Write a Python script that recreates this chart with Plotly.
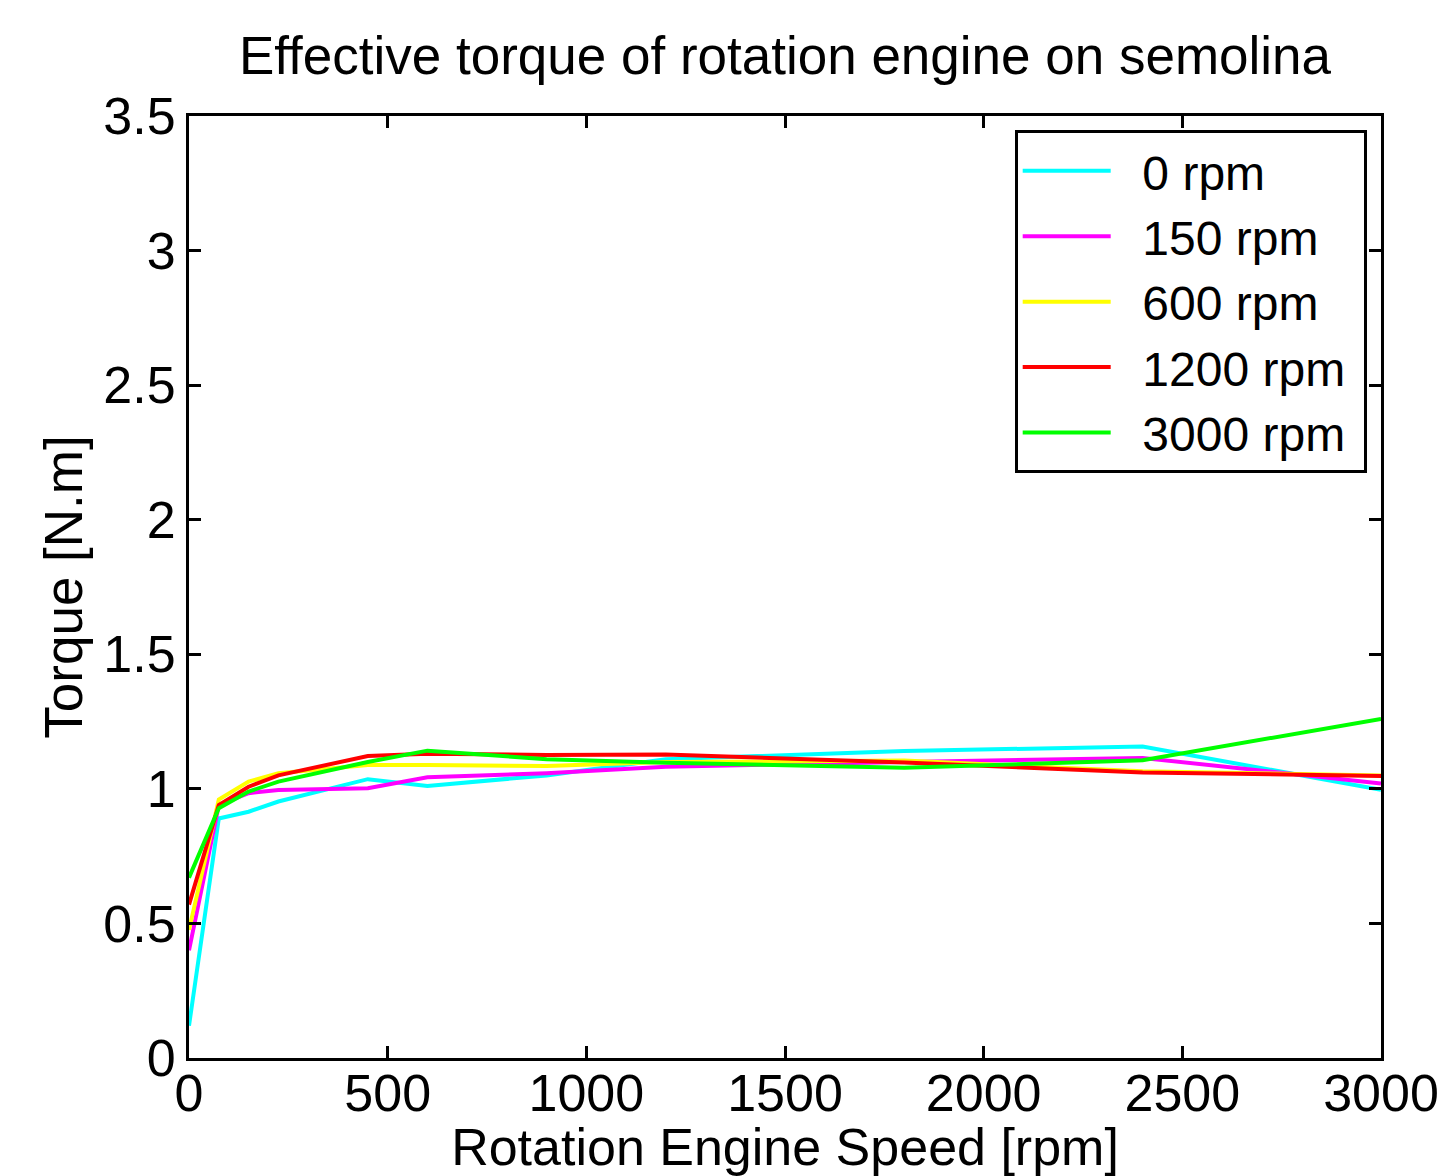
import plotly.graph_objects as go

speed = [0, 75, 150, 225, 450, 600, 900, 1200, 1800, 2400, 3000]
torque_0 = [0.12, 0.89, 0.915, 0.953, 1.036, 1.011, 1.05, 1.11, 1.141, 1.157, 0.997]
torque_150 = [0.40, 0.94, 0.984, 0.996, 1.002, 1.043, 1.058, 1.082, 1.10, 1.115, 1.02]
torque_600 = [0.476, 0.96, 1.027, 1.058, 1.089, 1.089, 1.085, 1.10, 1.105, 1.065, 1.05]
torque_1200 = [0.57, 0.94, 1.008, 1.05, 1.122, 1.13, 1.126, 1.128, 1.098, 1.061, 1.048]
torque_3000 = [0.67, 0.928, 0.99, 1.027, 1.10, 1.142, 1.11, 1.097, 1.078, 1.106, 1.26]

series = [
    ("0 rpm", torque_0, "#00FFFF"),
    ("150 rpm", torque_150, "#FF00FF"),
    ("600 rpm", torque_600, "#FFFF00"),
    ("1200 rpm", torque_1200, "#FF0000"),
    ("3000 rpm", torque_3000, "#00FF00"),
]

fig = go.Figure()
for name, vals, col in series:
    fig.add_trace(go.Scatter(x=speed, y=vals, mode="lines",
                             name="\u00a0\u00a0" + name + "\u00a0",
                             line=dict(color=col, width=4)))

FONT = "Liberation Sans, Arial, sans-serif"
axis_common = dict(
    showline=True, linecolor="black", linewidth=3, mirror="ticks",
    ticks="inside", ticklen=12, tickwidth=3, tickcolor="black",
    showgrid=False, zeroline=False, automargin=False,
    tickfont=dict(family=FONT, size=52, color="black"),
)

fig.update_layout(
    width=1439, height=1176,
    paper_bgcolor="white", plot_bgcolor="white",
    margin=dict(l=189, r=58, t=116, b=118, autoexpand=False),
    title=dict(text="Effective torque of rotation engine on semolina",
               font=dict(family=FONT, size=53, color="black"),
               x=0.5, xanchor="center", xref="paper", y=0.953, yanchor="middle"),
    xaxis=dict(range=[0, 3000], tickvals=[0, 500, 1000, 1500, 2000, 2500, 3000],
               ticklabelstandoff=-12,
               title=dict(text="Rotation Engine Speed [rpm]",
                          font=dict(family=FONT, size=52, color="black")),
               **axis_common),
    yaxis=dict(range=[0, 3.5], tickvals=[0, 0.5, 1, 1.5, 2, 2.5, 3, 3.5],
               ticktext=["0", "0.5", "1", "1.5", "2", "2.5", "3", "3.5"],
               title=dict(text="Torque [N.m]", standoff=4,
                          font=dict(family=FONT, size=53, color="black")),
               **axis_common),
    legend=dict(x=0.988, y=0.985, xanchor="right", yanchor="top",
                bordercolor="black", borderwidth=3, bgcolor="white",
                font=dict(family=FONT, size=48, color="black"),
                itemwidth=88, tracegroupgap=0),
    showlegend=True,
)

fig.write_html("out.html")
